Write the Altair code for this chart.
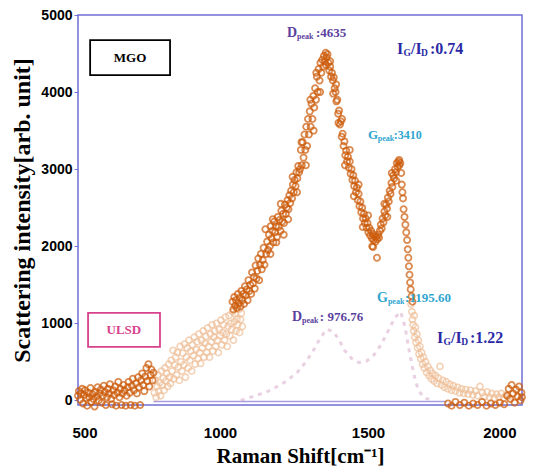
import altair as alt
import pandas as pd

# ---------------- data ----------------
x_ticks = [500, 1000, 1500, 2000]
y_ticks = [0, 1000, 2000, 3000, 4000, 5000]

# MGO (dark orange circles)
mgo_left = [(500,60),(503,120),(507,10),(510,90),(514,150),(517,-40),(521,70),(524,130),(528,30),(531,-70),
            (535,100),(538,40),(542,160),(545,-20),(549,80),(552,20),(556,-80),(559,110),(563,50),(566,170),
            (570,0),(573,90),(577,140),(580,-30),(584,60),(587,190),(591,110),(594,-60),(598,40),(601,150),
            (605,90),(608,210),(612,20),(615,-50),(619,130),(622,70),(626,180),(629,-70),(633,100),(636,240),
            (640,40),(643,150),(647,-60),(650,90),(654,200),(657,130),(661,-70),(664,60),(668,170),(671,240),
            (675,100),(678,-60),(682,190),(685,280),(689,130),(692,-70),(696,220),(699,90),(703,300),(706,170),
            (710,-60),(713,260),(717,350),(720,200),(724,120),(727,310),(731,420),(734,250),(738,470),(741,180),
            (745,330),(748,400),(752,260),(755,360)]

mgo_rise = [(1022,1280),(1025,1180),(1028,1340),(1031,1230),(1034,1300),(1037,1200),(1040,1380),(1043,1260),
            (1046,1330),(1049,1220),(1052,1420),(1055,1300),(1058,1380),(1061,1250),(1064,1480),(1067,1360),
            (1070,1440),(1073,1300),(1076,1560),(1079,1420),(1082,1500),(1085,1380),(1088,1660),(1091,1520),
            (1094,1600),(1097,1450),(1100,1750),(1103,1580),(1106,1680),(1109,1840),(1112,1560),(1115,1760),
            (1118,1900),(1121,1700),(1124,1820),(1127,1980),(1130,1760),(1133,2220),(1136,1900),(1139,2060),
            (1142,1950),(1145,2150),(1148,2000),(1151,2260),(1154,2100),(1157,2200),(1160,2050),(1163,2320),
            (1166,2180),(1169,2260),(1172,2120),(1175,2380),(1178,2250),(1181,2340),(1184,2200),(1187,2460),
            (1190,2320),(1193,2420),(1196,2300),(1199,2540),(1202,2420),(1205,2500),(1208,2600),(1211,2480),
            (1214,2660),(1217,2560),(1220,2720),(1223,2620),(1226,2800),(1229,2700),(1232,2860),(1235,2780),
            (1238,2960),(1241,2880),(1244,3040),(1247,2960),(1250,3000),(1253,3250),(1256,3050),(1259,3350),
            (1262,3150),(1265,3450),(1268,3250),(1271,3550),(1274,3300),(1277,3650),(1280,3450),(1283,3750),
            (1286,3550),(1289,3850),(1292,3650),(1295,3950),(1298,3800),(1301,4050),(1304,3900),(1307,4200),
            (1310,4000),(1313,4300),(1316,4150),(1319,4380),(1322,4250),(1325,4420),(1328,4330),(1331,4470),
            (1334,4400),(1337,4510),(1340,4450),(1343,4490)]

mgo_fall = [(1346,4380),(1349,4280),(1352,4330),(1355,4200),(1358,4250),(1361,4150),(1364,4190),(1367,4050),
            (1370,4000),(1373,3880),(1376,3900),(1379,3720),(1382,3760),(1385,3580),(1388,3620),(1391,3420),
            (1394,3460),(1397,3300),(1400,3360),(1403,3180),(1406,3240),(1409,3100),(1412,3160),(1415,3020),
            (1418,3100),(1421,2940),(1424,3000),(1427,2860),(1430,2920),(1433,2780),(1436,2850),(1439,2700),
            (1442,2760),(1445,2600),(1448,2680),(1451,2520),(1454,2580),(1457,2440),(1460,2500),(1463,2360),
            (1466,2420),(1469,2300),(1472,2360),(1475,2240),(1478,2300),(1481,2180),(1484,2240),(1487,2140),
            (1490,2200),(1493,2100),(1496,2160),(1499,2080),(1502,2130),(1505,2060),(1508,2120),(1511,2090),
            (1514,2150),(1517,2110),(1497,1990),(1510,1850)]

mgo_gpeak = [(1520,2200),(1523,2280),(1526,2230),(1529,2360),(1532,2310),(1535,2450),(1538,2400),(1541,2540),
             (1544,2490),(1547,2630),(1550,2580),(1553,2720),(1556,2680),(1559,2820),(1562,2770),(1565,2920),
             (1568,2880),(1571,3000),(1574,2960),(1577,3080),(1580,3030),(1583,3100),(1586,3050),(1589,3080),
             (1592,2950),(1594,2800),(1596,2700),(1598,2620),(1600,2480),(1603,2380),(1606,2280),(1609,2180),
             (1612,2080),(1614,1960),(1616,1850),(1618,1740),(1620,1630),(1622,1530),(1624,1440),(1627,1350),
             (1630,1280)]

mgo_extra = [(1150,1900),(1158,2350),(1170,2050),(1185,2550),(1195,2150),(1210,2350),(1225,2900),(1240,2700),
             (1255,3350),(1270,3050),(1285,3900),(1296,3500),(1305,4250),(1318,4000),(1338,4350),(1352,4400),
             (1362,3980),(1372,4100),(1380,3600),(1392,3650),(1402,3050),(1418,3250),(1432,2650),(1448,2800),
             (1462,2250),(1480,2400),(1494,2000),(1535,2550),(1545,2380),(1560,2950),(1575,2850),(1585,3120)]

mgo_right = [(1750,-40),(1762,-70),(1775,-20),(1790,-60),(1805,-30),(1820,-70),(1835,-40),(1850,-60),
             (1865,-20),(1880,-70),(1895,-40),(1910,-60),(1925,-30),(1940,-50),(1950,60),(1955,150),
             (1960,20),(1965,200),(1970,90),(1975,-30),(1980,140),(1985,50),(1990,180),(1995,0),
             (1998,100),(2000,40)]

# ULSD (light tan circles)
ulsd_rise = [(758,100),(761,260),(764,40),(767,180),(770,330),(773,120),(776,230),(779,60),(782,380),(785,200),
             (788,290),(791,130),(794,420),(797,250),(800,350),(803,180),(806,470),(809,300),(812,220),(815,520),
             (818,380),(821,650),(824,280),(827,460),(830,560),(833,330),(836,620),(839,430),(842,260),(845,700),
             (848,500),(851,380),(854,610),(857,460),(860,730),(863,300),(866,560),(869,680),(872,420),(875,780),
             (878,520),(881,640),(884,380),(887,720),(890,580),(893,820),(896,470),(899,660),(902,760),(905,540),
             (908,860),(911,620),(914,480),(917,780),(920,680),(923,900),(926,560),(929,740),(932,830),(935,620),
             (938,940),(941,700),(944,560),(947,860),(950,760),(953,980),(956,640),(959,820),(962,900),(965,700),
             (968,1000),(971,780),(974,620),(977,920),(980,840),(983,1040),(986,720),(989,880),(992,980),(995,780),
             (998,1080),(1001,860),(1004,700),(1007,960),(1010,1100),(1013,840),(1016,1000),(1019,920),(1022,1150),
             (1025,780),(1028,1020),(1031,1120),(1034,900),(1037,1060),(1040,980),(1043,1180),(1046,880),
             (1049,1050),(1052,1130),(1055,960)]

ulsd_tail = [(1625,1250),(1628,1150),(1630,1050),(1632,980),(1634,900),(1636,1100),(1638,820),(1640,950),
             (1642,750),(1645,860),(1647,680),(1650,780),(1652,600),(1655,700),(1658,540),(1661,620),(1664,470),
             (1667,560),(1670,420),(1674,500),(1678,360),(1682,440),(1686,320),(1690,390),(1694,280),(1698,350),
             (1703,250),(1708,320),(1713,220),(1718,290),(1723,440),(1728,200),(1733,260),(1738,170),(1744,240),
             (1750,150),(1756,210),(1762,130),(1768,190),(1775,120),(1782,170),(1789,100),(1796,150),(1803,90),
             (1810,140),(1818,80),(1826,130),(1834,70),(1842,120),(1850,60),(1858,180),(1866,100),(1874,50),
             (1882,110),(1890,40),(1898,90),(1906,30),(1914,80),(1922,40),(1930,90),(1938,30),(1946,70),(1954,40)]

# ULSD fitted curve (faint dashed)
curve_x = [1050,1100,1150,1200,1240,1270,1300,1320,1340,1360,1380,1400,1425,1450,1475,1500,1525,1550,1570,1590,
           1605,1620,1635,1650,1670,1700]
curve_y = [0,60,130,240,360,500,680,820,920,900,800,650,540,490,510,590,730,920,1070,1150,
           950,620,330,130,30,0]

# baseline segment under the ULSD curve
base_x, base_x2, base_y = [755], [1745], [-15]

# ---------------- frames ----------------
dark = pd.DataFrame(mgo_left + mgo_rise + mgo_fall + mgo_gpeak + mgo_extra + mgo_right, columns=["x", "y"])
light = pd.DataFrame(ulsd_rise + ulsd_tail, columns=["x", "y"])
curve = pd.DataFrame({"x": curve_x, "y": curve_y})
base = pd.DataFrame({"x": base_x, "x2": base_x2, "y": base_y})

PURPLE = "#5b3f9e"
NAVY = "#2a2aa6"
CYAN = "#2fa6d0"

# annotation pieces: text, x, y (data units), size, color
ann = pd.DataFrame([
    ("D", 1206, 4765, 14, PURPLE), ("peak", 1240, 4713, 8, PURPLE), (":4635", 1304, 4765, 13, PURPLE),
    ("I", 1578, 4558, 16, NAVY), ("G", 1600, 4506, 9.5, NAVY), ("/I", 1625, 4558, 16, NAVY),
    ("D", 1659, 4506, 9.5, NAVY), (":0.74", 1689, 4558, 16, NAVY),
    ("G", 1480, 3442, 13, CYAN), ("peak", 1513, 3390, 8, CYAN), (":3410", 1567, 3442, 12, CYAN),
    ("D", 1223, 1082, 14, PURPLE), ("peak", 1257, 1030, 8, PURPLE), (": 976.76", 1317, 1082, 13, PURPLE),
    ("G", 1510, 1328, 14, CYAN), ("peak", 1547, 1276, 8, CYAN), (":1195.60", 1605, 1328, 13, CYAN),
    ("I", 1713, 809, 16, NAVY), ("G", 1735, 757, 9.5, NAVY), ("/I", 1760, 809, 16, NAVY),
    ("D", 1795, 757, 9.5, NAVY), (":1.22", 1824, 809, 16, NAVY),
], columns=["text", "x", "y", "size", "color"])

boxes = pd.DataFrame([
    ("MGO", 541, 811, 4220, 4674, "black", 676, 4447),
    ("ULSD", 534, 777, 693, 1134, "#d8428c", 655, 913),
], columns=["label", "x", "x2", "y", "y2", "color", "tx", "ty"])

# ---------------- encodings ----------------
AXC = "#6f6fd8"
xaxis = alt.Axis(values=x_ticks, format="d", grid=False, domain=False, ticks=False, labelPadding=20,
                 labelOffset=-6,
                 labelFont="Liberation Sans", labelFontWeight="bold", labelFontSize=15, labelColor="black",
                 titleFont="Liberation Serif", titleFontWeight="bold", titleFontSize=21, titleColor="black",
                 titlePadding=5)
yaxis = alt.Axis(values=y_ticks, format="d", grid=False, domain=False, tickSize=4, tickColor=AXC,
                 labelPadding=2,
                 labelFont="Liberation Sans", labelFontWeight="bold", labelFontSize=14, labelColor="black",
                 titleFont="Liberation Serif", titleFontWeight="bold", titleFontSize=24, titleColor="black",
                 titlePadding=6)
xs = alt.Scale(domain=[500, 2000], nice=False, zero=False)
ys = alt.Scale(domain=[-60, 5000], nice=False, zero=False)
XT = "Raman Shift[cm\u207b\u00b9]"
YT = "Scattering intensity[arb. unit]"


def X(field="x"):
    return alt.X(f"{field}:Q", scale=xs, axis=xaxis, title=XT)


def Y(field="y"):
    return alt.Y(f"{field}:Q", scale=ys, axis=yaxis, title=YT)


base_layer = alt.Chart(base).mark_rule(color="#a79ddf", strokeWidth=1.6).encode(x=X(), x2="x2:Q", y=Y())

curve_layer = alt.Chart(curve).mark_line(color="#d3a3c6", strokeWidth=3, strokeDash=[4, 5],
                                         opacity=0.5).encode(x=X(), y=Y())

light_layer = alt.Chart(light).mark_point(shape="circle", filled=False, color="#efbf98", size=38,
                                          strokeWidth=1.6).encode(x=X(), y=Y())

dark_layer = alt.Chart(dark).mark_point(shape="circle", filled=False, color="#cc5a08", size=38,
                                        strokeWidth=1.8).encode(x=X(), y=Y())

box_layer = alt.Chart(boxes).mark_rect(fillOpacity=0, strokeWidth=1.8).encode(
    x=X(), x2="x2:Q", y=Y(), y2="y2:Q", stroke=alt.Color("color:N", scale=None))

box_text = alt.Chart(boxes).mark_text(font="Liberation Serif", fontWeight="bold", fontSize=13,
                                      align="center", baseline="middle").encode(
    x=X("tx"), y=Y("ty"), text="label:N", color=alt.Color("color:N", scale=None))

ann_layer = alt.Chart(ann).mark_text(font="Liberation Serif", fontWeight="bold", align="left",
                                     baseline="middle").encode(
    x=X(), y=Y(), text="text:N", size=alt.Size("size:Q", scale=None),
    color=alt.Color("color:N", scale=None))

chart = alt.layer(base_layer, curve_layer, light_layer, dark_layer, box_layer, box_text, ann_layer).properties(
    width=444, height=390,
    autosize=alt.AutoSizeParams(type="none"),
    padding={"left": 70, "top": 7, "right": 10, "bottom": 61},
    background="white",
).configure_view(stroke=AXC, strokeWidth=1.5)

chart.save("out.html", embed_options={"renderer": "svg", "actions": False})
